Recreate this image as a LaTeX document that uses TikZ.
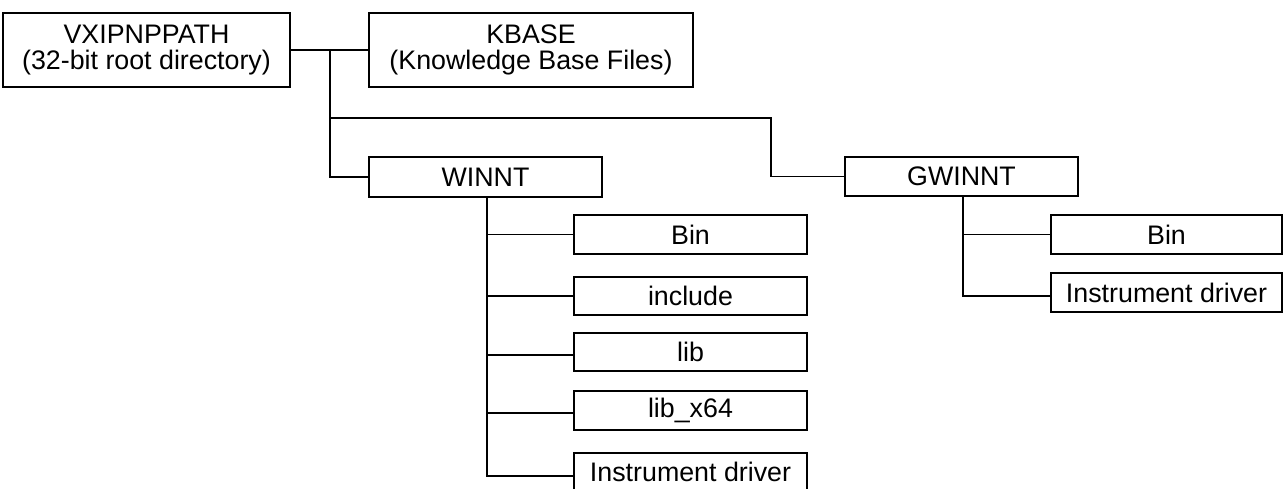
\documentclass[tikz,border=0pt]{standalone}
\usepackage{fontspec}
\setmainfont{Liberation Sans}
\begin{document}
\begin{tikzpicture}[x=1pt,y=-1pt,
  dirbox/.style={draw,line width=1.3pt,inner sep=0pt,outer sep=0pt,align=center,
    font=\fontsize{26.8}{26}\selectfont},
  link/.style={line width=1.3pt}]
\useasboundingbox (0,0) rectangle (1284,489);
% top level
\node[dirbox,minimum width=287,minimum height=74] (root) at (146.5,50) {VXIPNPPATH\\(32-bit root directory)};
\node[dirbox,minimum width=324,minimum height=74] (kbase) at (531,50) {KBASE\\(Knowledge Base Files)};
\node[dirbox,minimum width=233,minimum height=40] (winnt) at (485.5,177) {WINNT};
\node[dirbox,minimum width=233,minimum height=39] (gwinnt) at (961.5,176.5) {GWINNT};
% WINNT subfolders
\node[dirbox,minimum width=233,minimum height=39] (wbin) at (690.5,234.5) {Bin};
\node[dirbox,minimum width=233,minimum height=38] (winc) at (690.5,296) {include};
\node[dirbox,minimum width=233,minimum height=38] (wlib) at (690.5,352) {lib};
\node[dirbox,minimum width=233,minimum height=39] (wlib64) at (690.5,410.5) {lib\_x64};
\node[dirbox,minimum width=233,minimum height=38] (wdrv) at (690.5,472) {Instrument driver};
% GWINNT subfolders
\node[dirbox,minimum width=231,minimum height=39] (gbin) at (1166.5,234.5) {Bin};
\node[dirbox,minimum width=231,minimum height=39] (gdrv) at (1166.5,292.5) {Instrument driver};
% junction points
\coordinate (rj) at (330,50);
\coordinate (gj) at (771,118);
\coordinate (wt) at (487,197);
\coordinate (gt) at (963,196);
% connectors
\draw[link] (root.east) -- (kbase.west);
\draw[link] (rj) |- (winnt.west);
\draw[link] (rj |- gj) -- (gj) |- (gwinnt.west);
\draw[link] (wt) |- (wbin.west);
\draw[link] (wt) |- (winc.west);
\draw[link] (wt) |- ([yshift=-3pt]wlib.west);
\draw[link] (wt) |- ([yshift=-2.5pt]wlib64.west);
\draw[link] (wt) |- ([yshift=-4pt]wdrv.west);
\draw[link] (gt) |- (gbin.west);
\draw[link] (gt) |- ([yshift=-3.5pt]gdrv.west);
\end{tikzpicture}
\end{document}
